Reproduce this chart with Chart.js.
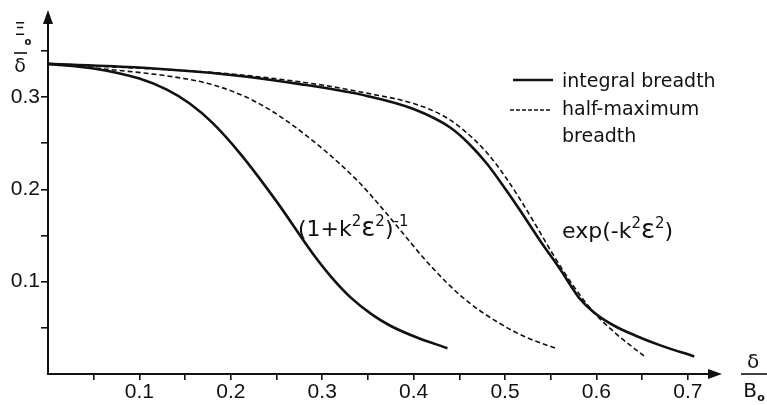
<!DOCTYPE html>
<html>
<head>
<meta charset="utf-8">
<script src="https://cdn.jsdelivr.net/npm/chart.js@4.4.1/dist/chart.umd.min.js"></script>
<style>
  body { margin: 0; background: #fff; }
  canvas { display: block; }
</style>
</head>
<body>
<canvas id="chart" width="767" height="405"></canvas>
<script>
// (1+k²ε²)^-1, integral breadth (solid)
let lorIntX = [0, 0.05, 0.1, 0.13, 0.155, 0.18, 0.21, 0.25, 0.29, 0.31, 0.331, 0.355, 0.375, 0.405, 0.437]
let lorIntY = [0.336, 0.331, 0.32, 0.308, 0.293, 0.272, 0.239, 0.187, 0.13, 0.105, 0.083, 0.064, 0.052, 0.039, 0.028]

// (1+k²ε²)^-1, half-maximum breadth (dashed)
let lorHalfX = [0, 0.076, 0.13, 0.174, 0.205, 0.229, 0.257, 0.298, 0.338, 0.36, 0.382, 0.416, 0.453, 0.493, 0.525, 0.555]
let lorHalfY = [0.336, 0.329, 0.323, 0.315, 0.305, 0.294, 0.277, 0.246, 0.21, 0.186, 0.16, 0.12, 0.0835, 0.0555, 0.039, 0.028]

// exp(-k²ε²), integral breadth (solid)
let expIntX = [0, 0.1, 0.2, 0.276, 0.35, 0.4, 0.44, 0.46, 0.48, 0.5, 0.516, 0.538, 0.56, 0.575, 0.581, 0.597, 0.62, 0.643, 0.67, 0.707]
let expIntY = [0.336, 0.332, 0.324, 0.314, 0.301, 0.287, 0.267, 0.25, 0.228, 0.201, 0.178, 0.145, 0.114, 0.091, 0.0825, 0.067, 0.052, 0.0415, 0.031, 0.019]

// exp(-k²ε²), half-maximum breadth (dashed)
let expHalfX = [0, 0.2, 0.3, 0.35, 0.4, 0.43, 0.45, 0.48, 0.5, 0.516, 0.535, 0.551, 0.575, 0.597, 0.621, 0.654]
let expHalfY = [0.336, 0.325, 0.313, 0.304, 0.293, 0.281, 0.268, 0.24, 0.214, 0.19, 0.159, 0.132, 0.095, 0.067, 0.044, 0.018]

let xTicks = [0.05, 0.1, 0.15, 0.2, 0.25, 0.3, 0.35, 0.4, 0.45, 0.5, 0.55, 0.6, 0.65, 0.7]
let yTicks = [0.05, 0.1, 0.15, 0.2, 0.25, 0.3, 0.35]

let tickFont = { family: "'Liberation Sans Narrow', 'Liberation Sans', sans-serif", size: 21 }
let textFont = "'DejaVu Sans', sans-serif"

function pts(xs, ys) {
    return xs.map((x, i) => ({ x: x, y: ys[i] }))
}

function curve(xs, ys, dashed) {
    return {
        data: pts(xs, ys),
        borderColor: "#111",
        borderWidth: dashed ? 1.6 : 2.6,
        borderDash: dashed ? [5, 3] : [],
        pointRadius: 0,
        fill: false,
        cubicInterpolationMode: "monotone"
    }
}

function label(v) {
    let r = Math.round(v * 100)
    return r % 10 === 0 ? (r / 100).toFixed(1) : ""
}

// text with raised superscript parts: [text, isSup, size]
function formula(ctx, parts, x, y) {
    parts.forEach(([t, sup, size]) => {
        ctx.font = (size || (sup ? 15 : 22)) + "px " + textFont
        ctx.fillText(t, x, sup ? y - 10 : y)
        x += ctx.measureText(t).width
    })
}

// arrows, legend, formula labels and axis titles
let extras = {
    id: "extras",
    afterDraw(chart) {
        let ctx = chart.ctx
        let area = chart.chartArea
        ctx.save()
        ctx.fillStyle = "#111"
        ctx.strokeStyle = "#111"

        // arrow heads
        ctx.beginPath()
        ctx.moveTo(area.right + 4, area.bottom)
        ctx.lineTo(area.right - 10, area.bottom - 5)
        ctx.lineTo(area.right - 10, area.bottom + 5)
        ctx.closePath()
        ctx.fill()
        ctx.beginPath()
        ctx.moveTo(area.left, area.top - 4)
        ctx.lineTo(area.left - 5, area.top + 10)
        ctx.lineTo(area.left + 5, area.top + 10)
        ctx.closePath()
        ctx.fill()

        // legend
        ctx.lineWidth = 2.4
        ctx.beginPath()
        ctx.moveTo(513, 80)
        ctx.lineTo(553, 80)
        ctx.stroke()
        ctx.lineWidth = 1.6
        ctx.setLineDash([4, 2])
        ctx.beginPath()
        ctx.moveTo(510, 110)
        ctx.lineTo(550, 110)
        ctx.stroke()
        ctx.setLineDash([])

        ctx.font = "19px " + textFont
        ctx.textAlign = "left"
        ctx.textBaseline = "alphabetic"
        ctx.fillText("integral breadth", 562, 87)
        ctx.fillText("half-maximum", 562, 115)
        ctx.fillText("breadth", 562, 142)

        // curve labels
        formula(ctx, [["(1+k", false], ["2", true], ["ε", false, 26], ["2", true], [")", false], ["-1", true]], 298, 236)
        formula(ctx, [["exp(-k", false], ["2", true], ["ε", false, 26], ["2", true], [")", false]], 562, 238)

        // x axis title
        ctx.textAlign = "center"
        ctx.textBaseline = "middle"
        ctx.font = "20px " + textFont
        ctx.fillText("δ", 753, 363)
        ctx.lineWidth = 1.6
        ctx.beginPath()
        ctx.moveTo(741, 374)
        ctx.lineTo(767, 374)
        ctx.stroke()
        ctx.fillText("B", 750, 392)
        ctx.font = "bold 11px " + textFont
        ctx.fillText("o", 761, 398)

        // y axis title
        ctx.font = "19px " + textFont
        ctx.fillText("δ", 20, 67)
        ctx.beginPath()
        ctx.moveTo(14, 53)
        ctx.lineTo(27, 53)
        ctx.stroke()
        ctx.font = "18px " + textFont
        ctx.fillText("Ξ", 20, 30)
        ctx.font = "bold 10px " + textFont
        ctx.fillText("o", 28, 42)

        ctx.restore()
    }
}

let chart = new Chart(document.querySelector("#chart").getContext("2d"), {
    type: "line",
    data: {
        datasets: [
            curve(lorIntX, lorIntY, false),
            curve(lorHalfX, lorHalfY, true),
            curve(expIntX, expIntY, false),
            curve(expHalfX, expHalfY, true)
        ]
    },
    options: {
        responsive: false,
        animation: false,
        devicePixelRatio: 1,
        layout: { padding: { left: 0, right: 49, top: 14, bottom: 0 } },
        plugins: {
            legend: { display: false },
            tooltip: { enabled: false }
        },
        scales: {
            x: {
                type: "linear",
                min: 0,
                max: 0.733,
                afterFit: (scale) => { scale.height = 31 },
                afterBuildTicks: (scale) => { scale.ticks = xTicks.map(v => ({ value: v })) },
                border: { display: true, color: "#111", width: 2 },
                grid: { drawOnChartArea: false, drawTicks: true, tickLength: 6, color: "#111", lineWidth: 1.6 },
                ticks: { color: "#111", font: tickFont, padding: 0, maxRotation: 0, autoSkip: false, callback: label }
            },
            y: {
                min: 0,
                max: 0.39,
                afterFit: (scale) => { scale.width = 48 },
                afterBuildTicks: (scale) => { scale.ticks = yTicks.map(v => ({ value: v })) },
                border: { display: true, color: "#111", width: 2 },
                grid: { drawOnChartArea: false, drawTicks: true, tickLength: 7, color: "#111", lineWidth: 1.6 },
                ticks: { color: "#111", font: tickFont, padding: 1, autoSkip: false, callback: label }
            }
        }
    },
    plugins: [extras]
})
</script>
</body>
</html>
